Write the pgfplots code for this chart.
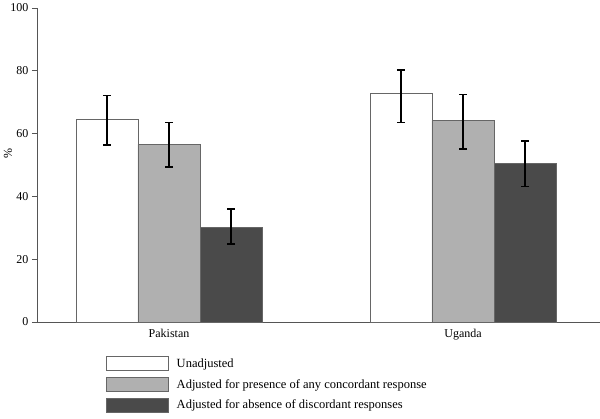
\documentclass[border=0pt]{standalone}
\usepackage{fontspec}
\setmainfont{Liberation Serif}
\usepackage{pgfplots}
\pgfplotsset{compat=1.18}

\definecolor{midgray}{HTML}{B0B0B0}
\definecolor{darkbar}{HTML}{4A4A4A}
\definecolor{edgegray}{HTML}{666666}
\definecolor{axisgray}{HTML}{555555}

\pgfplotsset{
  /pgfplots/ybar legend/.style={
    /pgfplots/legend image code/.code={\draw[##1] (0pt,-7pt) rectangle (62pt,7pt); \path[draw=none,fill=none] (0pt,0pt) -- (68pt,0pt);}},
  errbar/.style={
    error bars/y dir=both, error bars/y explicit,
    error bars/error bar style={line width=1.5pt, black},
    error bars/error mark options={rotate=90, mark size=4pt, line width=1.5pt, black}},
}

\begin{document}
\begin{tikzpicture}[x=1pt,y=1pt]
\path[use as bounding box] (0,0) rectangle (600,418);
\begin{axis}[
  at={(37pt,96pt)}, anchor=south west,
  scale only axis, width=563pt, height=314pt,
  xmin=0.551, xmax=2.466, ymin=0, ymax=100,
  axis x line=bottom, axis y line=left,
  axis line style={-, draw=axisgray, line width=0.8pt},
  ytick={0,20,...,100},
  xtick={1,2}, xticklabels={Pakistan,Uganda},
  x tick style={draw=none},
  y tick style={draw=axisgray, line width=0.8pt},
  tick align=outside, major tick length=5pt,
  tick label style={font=\fontsize{12}{14}\selectfont},
  /pgf/number format/assume math mode=true,
  xticklabel style={yshift=1pt},
  ylabel={\%},
  ylabel style={at={(axis description cs:-0.0515,0.538)}, anchor=center, font=\fontsize{12}{14}\selectfont},
  ybar=0pt, bar width=0.211,
  legend style={at={(axis description cs:0.1175,-0.102)}, anchor=north west,
    draw=none, fill=none, font=\fontsize{12.5}{15}\selectfont,
    row sep=6pt, cells={anchor=west}},
  legend cell align=left,
]
\addplot[fill=white, draw=edgegray, line width=0.8pt, errbar] coordinates {
  (1,64.6) += (0,7.5) -= (0,8.2)
  (2,72.7) += (0,7.6) -= (0,9.1)
};
\addplot[fill=midgray, draw=edgegray, line width=0.8pt, errbar] coordinates {
  (1,56.6) += (0,6.9) -= (0,7.2)
  (2,64.2) += (0,8.3) -= (0,9.1)
};
\addplot[fill=darkbar, draw=edgegray, line width=0.8pt, errbar] coordinates {
  (1,30.0) += (0,6.0) -= (0,5.1)
  (2,50.5) += (0,7.2) -= (0,7.3)
};
\legend{Unadjusted,Adjusted for presence of any concordant response,Adjusted for absence of discordant responses}
\end{axis}
\end{tikzpicture}
\end{document}
